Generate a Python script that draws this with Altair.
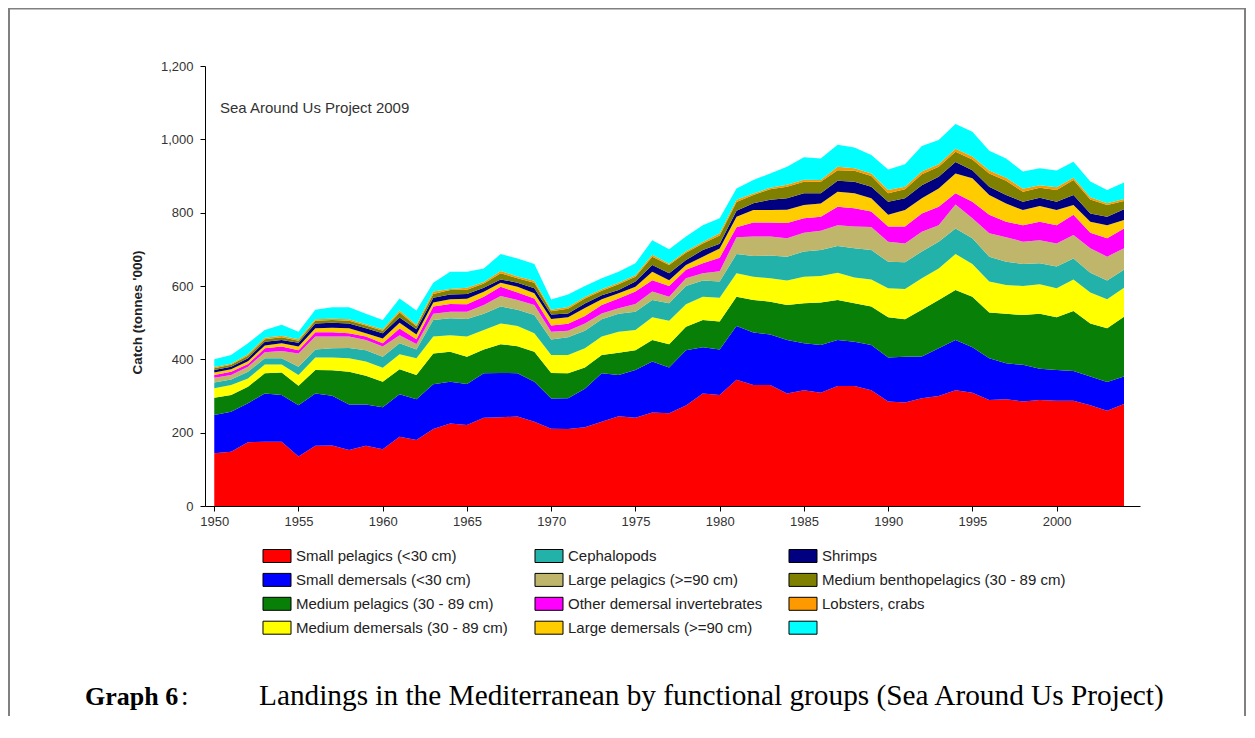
import altair as alt
import pandas as pd

years = list(range(1950, 2005))

series_names = [
    "Small pelagics (<30 cm)",
    "Small demersals (<30 cm)",
    "Medium pelagics (30 - 89 cm)",
    "Medium demersals (30 - 89 cm)",
    "Cephalopods",
    "Large pelagics (>=90 cm)",
    "Other demersal invertebrates",
    "Large demersals (>=90 cm)",
    "Shrimps",
    "Medium benthopelagics (30 - 89 cm)",
    "Lobsters, crabs",
    "Other",
]
series_colors = [
    "#FF0000", "#0000FF", "#088008", "#FFFF00", "#22B2AA", "#BFB66C",
    "#FF00FF", "#FFCC00", "#000080", "#808000", "#FF9900", "#00FFFF",
]

small_pelagics = [144, 148, 174, 175, 175, 135, 164, 165, 153, 164,
                  155, 189, 180, 210, 225, 221, 241, 242, 244, 230,
                  211, 210, 215, 230, 245, 241, 255, 253, 274, 307,
                  303, 344, 330, 330, 307, 316, 309, 327, 327, 316,
                  285, 282, 294, 300, 316, 309, 289, 291, 285, 289,
                  287, 287, 275, 260, 278]
small_demersals = [104, 109, 106, 132, 128, 140, 143, 136, 124, 113,
                   114, 116, 111, 122, 114, 112, 121, 121, 118, 109,
                   82, 84, 105, 132, 112, 130, 139, 125, 151, 126,
                   124, 147, 143, 138, 146, 128, 130, 126, 121, 123,
                   120, 125, 114, 130, 137, 124, 114, 98, 100, 85,
                   84, 81, 78, 78, 75]
medium_pelagics = [47, 46, 45, 55, 61, 53, 64, 69, 89, 78,
                   70, 68, 66, 84, 82, 74, 65, 78, 74, 82,
                   70, 68, 58, 50, 61, 54, 59, 63, 64, 74,
                   76, 80, 89, 89, 95, 109, 116, 109, 105, 105,
                   110, 102, 127, 132, 136, 138, 125, 135, 136, 150,
                   144, 164, 145, 147, 163]
medium_demersals = [26, 27, 23, 24, 22, 29, 34, 35, 37, 39,
                    38, 41, 46, 46, 45, 55, 53, 57, 55, 50,
                    49, 50, 52, 50, 57, 55, 62, 64, 61, 64,
                    65, 64, 63, 64, 67, 72, 72, 74, 70, 74,
                    79, 83, 86, 86, 98, 89, 84, 79, 79, 81,
                    79, 86, 84, 79, 79]
cephalopods = [16, 15, 18, 17, 17, 23, 22, 25, 28, 31,
               30, 30, 24, 45, 46, 48, 44, 46, 44, 50,
               42, 48, 48, 47, 49, 50, 47, 48, 50, 44,
               44, 52, 57, 62, 65, 69, 71, 73, 80, 80,
               72, 73, 73, 73, 70, 70, 68, 63, 60, 57,
               59, 57, 54, 51, 49]
large_pelagics = [13, 12, 14, 16, 20, 36, 35, 32, 31, 28,
                  28, 22, 15, 17, 18, 20, 24, 29, 27, 27,
                  21, 18, 20, 16, 15, 21, 23, 18, 21, 20,
                  28, 46, 53, 52, 50, 51, 53, 57, 59, 63,
                  55, 51, 54, 45, 65, 55, 64, 67, 61, 63,
                  63, 64, 67, 65, 59]
other_dem_invert = [7, 9, 7, 11, 12, 9, 12, 12, 9, 9,
                    9, 18, 13, 20, 21, 20, 23, 25, 20, 18,
                    17, 19, 20, 23, 27, 34, 31, 29, 23, 27,
                    37, 27, 38, 38, 42, 40, 38, 50, 50, 42,
                    41, 46, 50, 50, 31, 45, 50, 42, 45, 50,
                    50, 55, 42, 50, 54]
large_demersals = [7, 7, 8, 8, 9, 10, 11, 12, 14, 9,
                   13, 16, 13, 11, 13, 15, 13, 11, 16, 14,
                   18, 18, 22, 16, 14, 13, 23, 16, 13, 18,
                   25, 29, 34, 34, 36, 36, 36, 41, 41, 36,
                   32, 45, 41, 50, 54, 64, 54, 50, 41, 43,
                   41, 27, 30, 36, 23]
shrimps = [7, 7, 8, 10, 9, 10, 13, 14, 13, 14,
           14, 14, 14, 13, 13, 13, 11, 9, 11, 14,
           12, 10, 12, 11, 9, 14, 18, 19, 14, 18,
           13, 16, 19, 28, 31, 32, 28, 30, 31, 32,
           36, 32, 36, 32, 31, 22, 23, 23, 23, 23,
           23, 27, 23, 23, 29]
medium_benthopelagics = [5, 5, 7, 7, 7, 6, 7, 7, 7, 7,
                         7, 14, 8, 10, 12, 12, 12, 17, 12, 15,
                         9, 13, 14, 12, 16, 13, 23, 22, 20, 18,
                         23, 24, 22, 29, 32, 31, 31, 29, 30, 29,
                         23, 25, 30, 27, 28, 29, 36, 39, 27, 27,
                         32, 41, 38, 32, 23]
lobsters_crabs = [3, 3, 4, 4, 4, 4, 4, 4, 4, 4,
                  4, 5, 4, 7, 3, 5, 4, 6, 5, 5,
                  4, 5, 4, 4, 4, 4, 5, 4, 4, 4,
                  6, 6, 4, 4, 5, 6, 5, 9, 7, 7,
                  9, 7, 7, 7, 8, 8, 8, 8, 8, 7,
                  7, 6, 6, 5, 5]
other_groups = [21, 24, 30, 21, 30, 20, 26, 31, 33, 28,
                25, 33, 39, 24, 47, 44, 37, 46, 49, 46,
                28, 34, 30, 30, 30, 33, 40, 39, 40, 46,
                41, 31, 37, 39, 49, 61, 59, 60, 57, 50,
                56, 61, 70, 66, 68, 68, 54, 53, 47, 46,
                46, 44, 43, 36, 45]

all_series = [small_pelagics, small_demersals, medium_pelagics, medium_demersals,
              cephalopods, large_pelagics, other_dem_invert, large_demersals,
              shrimps, medium_benthopelagics, lobsters_crabs, other_groups]

y_ticks = [0, 200, 400, 600, 800, 1000, 1200]
x_ticks = [1950, 1955, 1960, 1965, 1970, 1975, 1980, 1985, 1990, 1995, 2000]

rows = []
for i, (name, vals) in enumerate(zip(series_names, all_series)):
    for yr, v in zip(years, vals):
        rows.append({"year": yr, "group": name, "catch": v, "stack_idx": i})
df = pd.DataFrame(rows)

# legend is laid out row-major in 3 columns; reorder so that columns read like the original
legend_order = [series_names[i] for i in [0, 4, 8, 1, 5, 9, 2, 6, 10, 3, 7, 11]]
legend_colors = [series_colors[series_names.index(n)] for n in legend_order]

W, H = 935, 440

area = alt.Chart(df).mark_area(interpolate="linear", strokeWidth=0).encode(
    x=alt.X("year:Q",
            scale=alt.Scale(domain=[1949.45, 2004.95], nice=False, zero=False),
            axis=alt.Axis(values=x_ticks, format="d", title=None, grid=False,
                          tickSize=5, labelPadding=4, labelFontSize=13,
                          labelFont="Liberation Sans", labelColor="#333333",
                          domainColor="#000000", tickColor="#000000",
                          labelFlush=False)),
    y=alt.Y("catch:Q", stack="zero",
            scale=alt.Scale(domain=[0, 1200], nice=False),
            axis=alt.Axis(values=y_ticks, format=",.0f", title="Catch (tonnes '000)",
                          grid=False, tickSize=5, labelPadding=7, labelFontSize=13,
                          labelFont="Liberation Sans", labelColor="#333333",
                          domainColor="#000000", tickColor="#000000",
                          titleFont="Liberation Sans", titleFontSize=13.5,
                          titleFontWeight="bold", titleColor="#222222",
                          titleX=-68, titleY=246, titleAngle=270,
                          titleBaseline="middle", titleAlign="center")),
    color=alt.Color("group:N",
                    scale=alt.Scale(domain=legend_order, range=legend_colors),
                    legend=alt.Legend(title=None, orient="none", legendX=64.5, legendY=482.5,
                                      columns=3, direction="horizontal",
                                      symbolType="M-2.154,-1H2.154V1H-2.154Z",
                                      symbolSize=169, symbolStrokeColor="#000000",
                                      symbolStrokeWidth=1, symbolOpacity=1,
                                      labelFontSize=15, labelFont="Liberation Sans",
                                      labelColor="#222222", labelOffset=11.5,
                                      columnPadding=24, rowPadding=6.9, padding=0,
                                      labelLimit=400,
                                      labelExpr="datum.label == 'Other' ? '' : datum.label")),
    order=alt.Order("stack_idx:Q", sort="ascending"),
)

note = alt.Chart(pd.DataFrame({"t": ["Sea Around Us Project 2009"]})).mark_text(
    align="left", baseline="middle", font="Liberation Sans", fontSize=15, color="#333333"
).encode(text="t:N", x=alt.value(15), y=alt.value(42))

cap_bold = alt.Chart(pd.DataFrame({"t": ["Graph 6"]})).mark_text(
    align="left", baseline="alphabetic", font="Liberation Serif", fontSize=26,
    fontWeight="bold", color="#000000"
).encode(text="t:N", x=alt.value(-120), y=alt.value(639))

cap_colon = alt.Chart(pd.DataFrame({"t": [":"]})).mark_text(
    align="left", baseline="alphabetic", font="Liberation Serif", fontSize=27, color="#000000"
).encode(text="t:N", x=alt.value(-24), y=alt.value(639))

cap_text = alt.Chart(pd.DataFrame({"t": ["Landings in the Mediterranean by functional groups (Sea Around Us Project)"]})).mark_text(
    align="left", baseline="alphabetic", font="Liberation Serif", fontSize=29.3, color="#000000"
).encode(text="t:N", x=alt.value(54), y=alt.value(639))

frame_df = pd.DataFrame({"a": [0]})
frame_top = alt.Chart(frame_df).mark_rule(color="#808080", strokeWidth=3).encode(
    x=alt.value(-197), x2=alt.value(1041), y=alt.value(-58))
frame_left = alt.Chart(frame_df).mark_rule(color="#808080", strokeWidth=2).encode(
    x=alt.value(-196), y=alt.value(-60), y2=alt.value(652))
frame_right = alt.Chart(frame_df).mark_rule(color="#808080", strokeWidth=2).encode(
    x=alt.value(1040), y=alt.value(-60), y2=alt.value(652))

chart = alt.layer(area, note, cap_bold, cap_colon, cap_text,
                  frame_top, frame_left, frame_right).properties(
    width=W, height=H,
    padding={"left": 197, "top": 58, "right": 107, "bottom": 210},
    autosize=alt.AutoSizeParams(type="none"),
    background="#ffffff",
).configure_view(stroke=None)

chart.save("out.html", embed_options={"renderer": "svg", "actions": False})
